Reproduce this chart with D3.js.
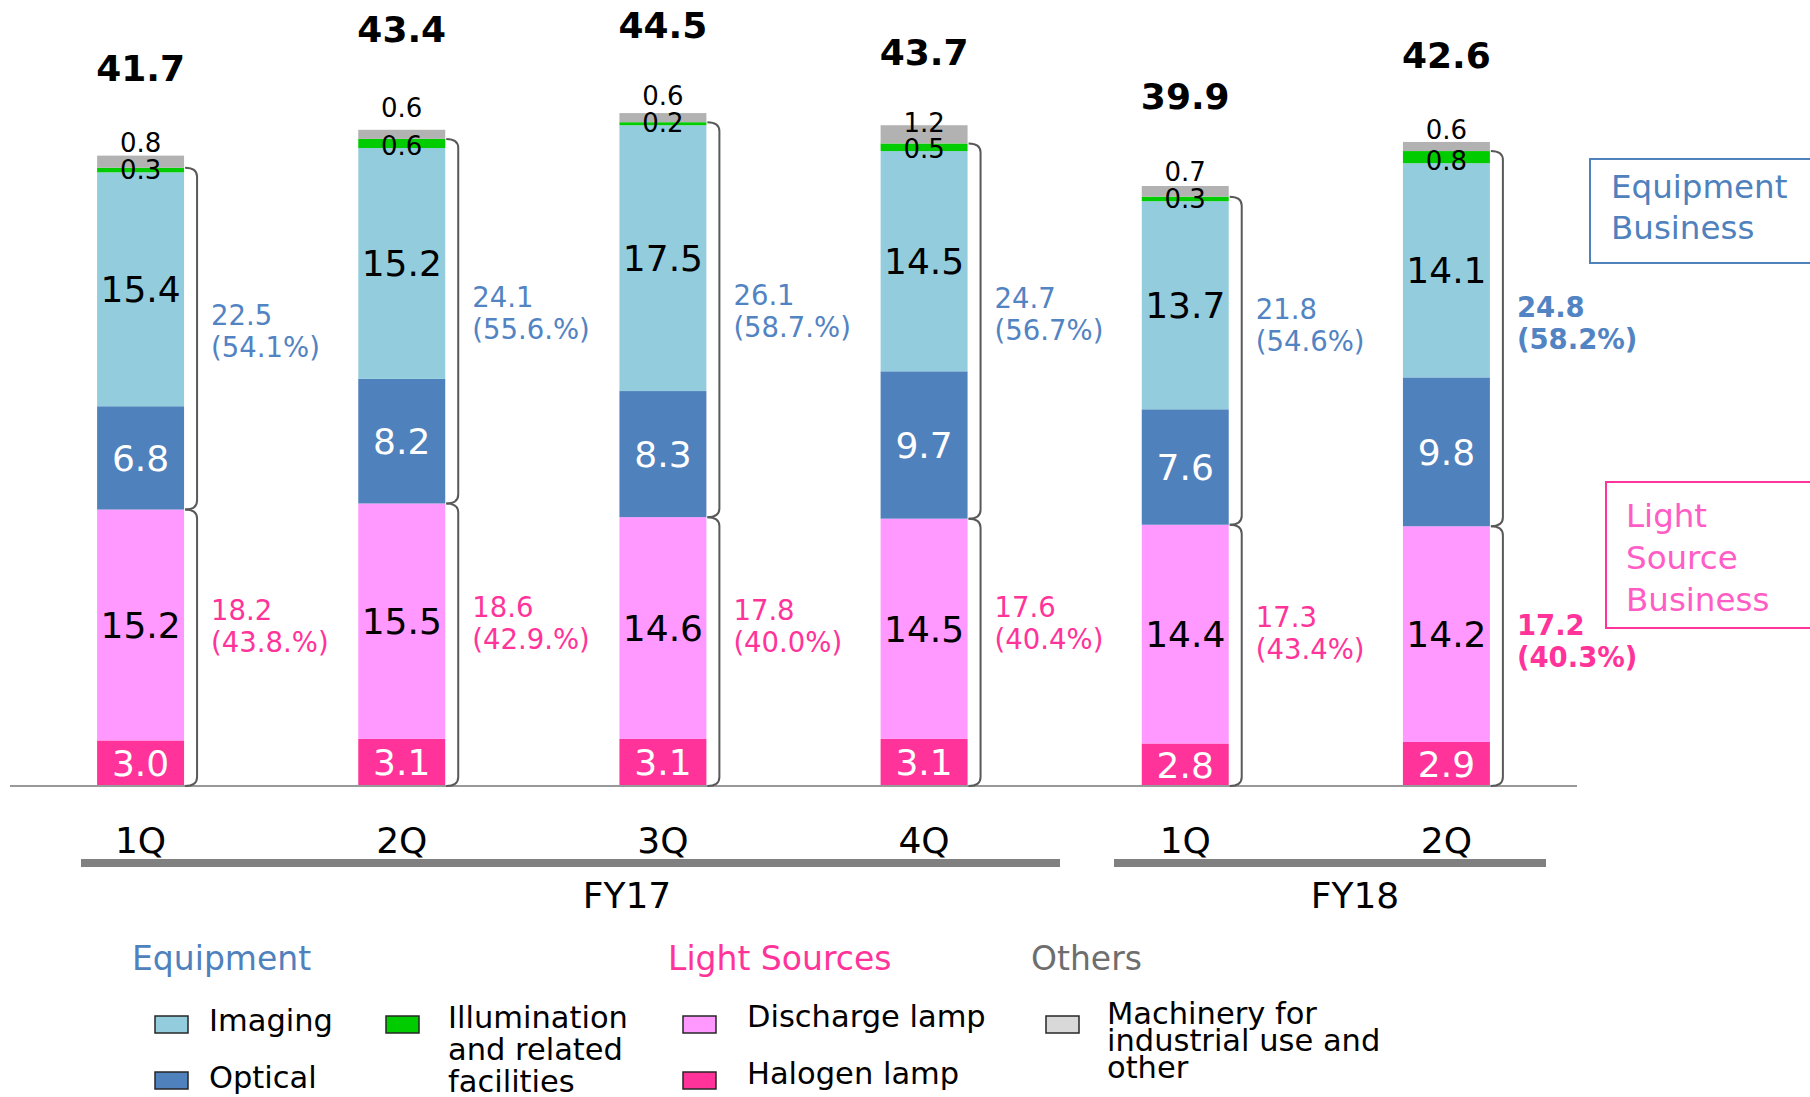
<!DOCTYPE html>
<html>
<head>
<meta charset="utf-8">
<script src="https://cdn.jsdelivr.net/npm/d3@7"></script>
<style>
  html, body { margin: 0; padding: 0; background: #ffffff; }
  svg { display: block; font-family: "DejaVu Sans", Verdana, sans-serif; }
</style>
</head>
<body>
<svg id="chart" width="1810" height="1097"></svg>
<script>
// ---------------- data ----------------
const periods = ["FY17-1Q", "FY17-2Q", "FY17-3Q", "FY17-4Q", "FY18-1Q", "FY18-2Q"];
const quarterLabels = ["1Q", "2Q", "3Q", "4Q", "1Q", "2Q"];
const fiscalYears = ["FY17", "FY18"];

const halogen      = [3.0, 3.1, 3.1, 3.1, 2.8, 2.9];
const discharge    = [15.2, 15.5, 14.6, 14.5, 14.4, 14.2];
const optical      = [6.8, 8.2, 8.3, 9.7, 7.6, 9.8];
const imaging      = [15.4, 15.2, 17.5, 14.5, 13.7, 14.1];
const illumination = [0.3, 0.6, 0.2, 0.5, 0.3, 0.8];
const others       = [0.8, 0.6, 0.6, 1.2, 0.7, 0.6];

const totals = [41.7, 43.4, 44.5, 43.7, 39.9, 42.6];

const equipmentTotals = ["22.5", "24.1", "26.1", "24.7", "21.8", "24.8"];
const equipmentShares = ["(54.1%)", "(55.6.%)", "(58.7.%)", "(56.7%)", "(54.6%)", "(58.2%)"];
const lightTotals     = ["18.2", "18.6", "17.8", "17.6", "17.3", "17.2"];
const lightShares     = ["(43.8.%)", "(42.9.%)", "(40.0%)", "(40.4%)", "(43.4%)", "(40.3%)"];

const seriesKeys = ["halogen", "discharge", "optical", "imaging", "illumination", "others"];
const seriesValues = { halogen, discharge, optical, imaging, illumination, others };

// ---------------- styles / layout ----------------
const colors = {
  halogen: "#FF3399", discharge: "#FF99FF", optical: "#4F81BD",
  imaging: "#93CDDD", illumination: "#00CC00", others: "#B2B2B2"
};
const labelColors = { halogen: "#ffffff", discharge: "#000000", optical: "#ffffff", imaging: "#000000" };
const blueText = "#5283C2";
const pinkText = "#FF3399";

const totalNudge  = [0, -13, 0, 15, -2, 1];
const othersNudge = [-4, -13, -8, 7, -5, -3];
const eqLabelNudge = [12, -6, -8, -5, 6, 4];
const lsLabelNudge = [-2, -5, -2, -5, 5, 13];

const rows = periods.map((p, i) => {
  const r = { period: p };
  seriesKeys.forEach(k => r[k] = seriesValues[k][i]);
  return r;
});

const svg = d3.select("#chart");

const x = d3.scaleBand().domain(periods).range([10, 1577]).paddingInner(0.667).paddingOuter(0.3335);
const y = d3.scaleLinear().domain([0, 50]).range([786, 786 - 50 * 15.19]);

const stacked = d3.stack().keys(seriesKeys)(rows);

// bars
const layers = svg.append("g").selectAll("g").data(stacked).join("g")
  .attr("fill", d => colors[d.key]);
layers.selectAll("rect").data(d => d).join("rect")
  .attr("x", d => x(d.data.period))
  .attr("width", x.bandwidth())
  .attr("y", d => y(d[1]))
  .attr("height", d => y(d[0]) - y(d[1]));

// baseline
svg.append("line")
  .attr("x1", 10).attr("x2", 1577)
  .attr("y1", y(0)).attr("y2", y(0))
  .attr("stroke", "#999999").attr("stroke-width", 2);

// segment value labels
const bigKeys = ["halogen", "discharge", "optical", "imaging"];
stacked.filter(s => bigKeys.includes(s.key)).forEach(s => {
  svg.append("g").selectAll("text").data(s).join("text")
    .attr("x", d => x(d.data.period) + x.bandwidth() / 2)
    .attr("y", d => (y(d[0]) + y(d[1])) / 2)
    .attr("dy", "0.36em")
    .attr("text-anchor", "middle")
    .attr("font-size", 36)
    .attr("fill", labelColors[s.key])
    .text(d => d3.format(".1f")(d[1] - d[0]));
});

// illumination labels
const illumLayer = stacked.find(s => s.key === "illumination");
svg.append("g").selectAll("text").data(illumLayer).join("text")
  .attr("x", d => x(d.data.period) + x.bandwidth() / 2)
  .attr("y", d => y(d[0]) + 7)
  .attr("text-anchor", "middle")
  .attr("font-size", 26)
  .attr("fill", "#000")
  .text(d => d3.format(".1f")(d.data.illumination));

// others labels
const othersLayer = stacked.find(s => s.key === "others");
svg.append("g").selectAll("text").data(othersLayer).join("text")
  .attr("x", d => x(d.data.period) + x.bandwidth() / 2)
  .attr("y", (d, i) => y(d[1]) + othersNudge[i])
  .attr("text-anchor", "middle")
  .attr("font-size", 26)
  .attr("fill", "#000")
  .text(d => d3.format(".1f")(d.data.others));

// totals
svg.append("g").selectAll("text").data(othersLayer).join("text")
  .attr("x", d => x(d.data.period) + x.bandwidth() / 2)
  .attr("y", (d, i) => y(d[1]) - 75 + totalNudge[i])
  .attr("text-anchor", "middle")
  .attr("font-size", 36)
  .attr("font-weight", "bold")
  .attr("fill", "#000")
  .text((d, i) => d3.format(".1f")(totals[i]));

// braces
function bracePath(x0, yTop, yBot) {
  const w = 12, r = 9;
  const x1 = x0 + w;
  return `M${x0},${yTop} Q${x1},${yTop} ${x1},${yTop + r} L${x1},${yBot - r} Q${x1},${yBot} ${x0},${yBot}`;
}
const dischargeLayer = stacked.find(s => s.key === "discharge");
const braceG = svg.append("g").attr("fill", "none").attr("stroke", "#595959").attr("stroke-width", 2);
periods.forEach((p, i) => {
  const x0 = x(p) + x.bandwidth() + 1;
  const eqTop = y(illumLayer[i][1]);
  const split = y(dischargeLayer[i][1]);
  braceG.append("path").attr("d", bracePath(x0, eqTop, split));
  braceG.append("path").attr("d", bracePath(x0, split, y(0)));
});

// brace labels
const lastIdx = periods.length - 1;
const labG = svg.append("g").attr("font-size", 27.5);
periods.forEach((p, i) => {
  const lx = x(p) + x.bandwidth() + 27;
  const bold = i === lastIdx ? "bold" : "normal";
  const eq = labG.append("text").attr("x", lx).attr("y", 313 + eqLabelNudge[i]).attr("fill", blueText).attr("font-weight", bold);
  eq.append("tspan").attr("x", lx).text(equipmentTotals[i]);
  eq.append("tspan").attr("x", lx).attr("dy", 32).text(equipmentShares[i]);
  const ls = labG.append("text").attr("x", lx).attr("y", 622 + lsLabelNudge[i]).attr("fill", pinkText).attr("font-weight", bold);
  ls.append("tspan").attr("x", lx).text(lightTotals[i]);
  ls.append("tspan").attr("x", lx).attr("dy", 32).text(lightShares[i]);
});

// quarter labels
svg.append("g").selectAll("text").data(periods).join("text")
  .attr("x", d => x(d) + x.bandwidth() / 2)
  .attr("y", 853)
  .attr("text-anchor", "middle")
  .attr("font-size", 36)
  .attr("fill", "#000")
  .text((d, i) => quarterLabels[i]);

// fiscal-year group lines and labels
const groupSpans = [[81, 1060], [1114, 1546]];
const groupLabelX = [627, 1355];
fiscalYears.forEach((fy, i) => {
  svg.append("rect")
    .attr("x", groupSpans[i][0]).attr("y", 859)
    .attr("width", groupSpans[i][1] - groupSpans[i][0]).attr("height", 8)
    .attr("fill", "#808080");
  svg.append("text")
    .attr("x", groupLabelX[i]).attr("y", 908)
    .attr("text-anchor", "middle")
    .attr("font-size", 36)
    .attr("fill", "#000")
    .text(fy);
});

// business boxes
svg.append("rect").attr("x", 1590).attr("y", 159).attr("width", 240).attr("height", 104)
  .attr("fill", "none").attr("stroke", "#4F81BD").attr("stroke-width", 2);
const eqBox = svg.append("text").attr("font-size", 32.5).attr("fill", "#4F81BD");
["Equipment", "Business"].forEach((t, i) =>
  eqBox.append("tspan").attr("x", 1611).attr("y", 198 + i * 41).text(t));

svg.append("rect").attr("x", 1606).attr("y", 482).attr("width", 230).attr("height", 146)
  .attr("fill", "none").attr("stroke", "#FF3399").attr("stroke-width", 2);
const lsBox = svg.append("text").attr("font-size", 32.5).attr("fill", "#FF5CC6");
["Light", "Source", "Business"].forEach((t, i) =>
  lsBox.append("tspan").attr("x", 1626).attr("y", 527 + i * 42).text(t));

// legend
const legendHeaders = [
  { text: "Equipment", x: 132, color: "#4F81BD" },
  { text: "Light Sources", x: 668, color: "#FF3399" },
  { text: "Others", x: 1031, color: "#6E6E6E" }
];
legendHeaders.forEach(h => svg.append("text").attr("x", h.x).attr("y", 970)
  .attr("font-size", 33).attr("fill", h.color).text(h.text));

const legendItems = [
  { key: "imaging", lines: ["Imaging"], sx: 155, sy: 1016, tx: 209, ty: 1031, lh: 32 },
  { key: "optical", lines: ["Optical"], sx: 155, sy: 1072, tx: 209, ty: 1088, lh: 32 },
  { key: "illumination", lines: ["Illumination", "and related", "facilities"], sx: 386, sy: 1016, tx: 448, ty: 1028, lh: 32 },
  { key: "discharge", lines: ["Discharge lamp"], sx: 683, sy: 1016, tx: 747, ty: 1027, lh: 32 },
  { key: "halogen", lines: ["Halogen lamp"], sx: 683, sy: 1072, tx: 747, ty: 1084, lh: 32 },
  { key: "machinery", lines: ["Machinery for", "industrial use and", "other"], sx: 1046, sy: 1016, tx: 1107, ty: 1024, lh: 27 }
];
const legendFill = Object.assign({}, colors, { machinery: "#D9D9D9" });
legendItems.forEach(it => {
  svg.append("rect").attr("x", it.sx).attr("y", it.sy).attr("width", 33).attr("height", 17)
    .attr("fill", legendFill[it.key]).attr("stroke", "#262626").attr("stroke-width", 1.5);
  const t = svg.append("text").attr("font-size", 30.5).attr("fill", "#000");
  it.lines.forEach((l, j) => t.append("tspan").attr("x", it.tx).attr("y", it.ty + j * it.lh).text(l));
});
</script>
</body>
</html>
